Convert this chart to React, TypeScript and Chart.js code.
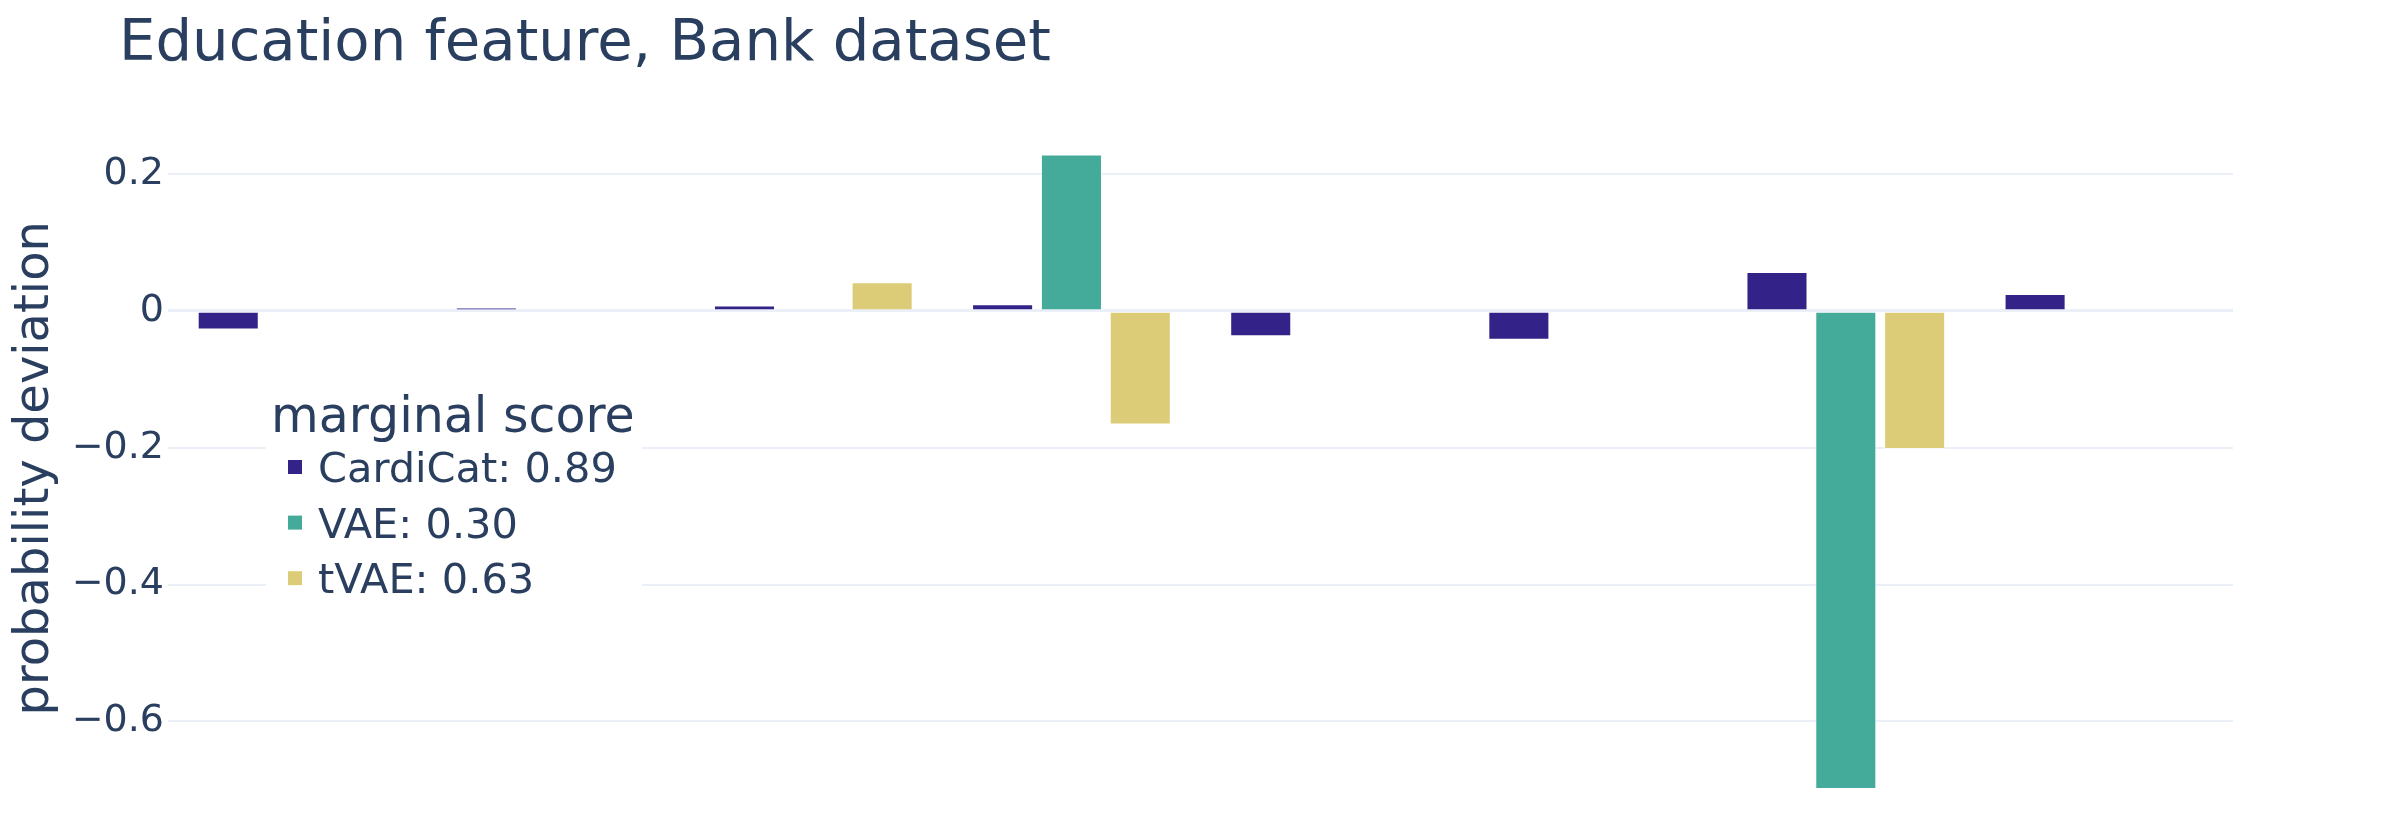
import React, { useEffect, useRef } from "react";
import { Chart, registerables } from "chart.js";

Chart.register(...registerables);

const CATEGORIES = [
  "basic.4y",
  "basic.6y",
  "basic.9y",
  "high.school",
  "illiterate",
  "professional.course",
  "university.degree",
  "unknown",
];
const SERIES_NAMES = ["CardiCat: 0.89", "VAE: 0.30", "tVAE: 0.63"];
const CARDICAT = [-0.027, 0.005, 0.008, 0.01, -0.037, -0.042, 0.057, 0.025];
const VAE = [null, null, null, 0.229, null, null, -0.699, null];
const TVAE = [null, null, 0.042, -0.166, null, null, -0.202, null];
const Y_TICKS = [-0.6, -0.4, -0.2, 0, 0.2];
const TITLE = "Education feature, Bank dataset";
const Y_TITLE = "probability deviation";
const LEGEND_TITLE = "marginal score";
const COLORS = ["rgb(51,34,136)", "rgb(68,170,153)", "rgb(221,204,119)"];

const TEXT = "#2a3f5f";
const GRID = "#EBF0F8";
const FONT = "'DejaVu Sans', Verdana, sans-serif";

const formatTick = (v: number) => {
  if (Math.abs(v) < 1e-9) return "0";
  return (v < 0 ? "\u2212" : "") + Math.abs(v).toFixed(1);
};

const overlayPlugin = {
  id: "overlay",
  afterDraw(chart: any) {
    const ctx = chart.ctx as CanvasRenderingContext2D;
    ctx.save();
    ctx.textAlign = "left";
    ctx.textBaseline = "alphabetic";
    // title
    ctx.fillStyle = TEXT;
    ctx.font = `57.7px ${FONT}`;
    ctx.fillText(TITLE, 119, 60);
    // legend
    ctx.fillStyle = "#ffffff";
    ctx.fillRect(266, 385, 376, 230);
    ctx.fillStyle = TEXT;
    ctx.font = `49px ${FONT}`;
    ctx.fillText(LEGEND_TITLE, 271, 432);
    chart.data.datasets.forEach((ds: any, i: number) => {
      const y = 482 + i * 55.6;
      ctx.fillStyle = ds.backgroundColor;
      ctx.fillRect(288, y - 22, 14, 14);
      ctx.fillStyle = TEXT;
      ctx.font = `41.5px ${FONT}`;
      ctx.fillText(ds.label, 318, y);
    });
    ctx.restore();
  },
};

export default function App() {
  const canvasRef = useRef<HTMLCanvasElement | null>(null);

  useEffect(() => {
    if (!canvasRef.current) return;
    Chart.defaults.font.family = FONT;
    const series = [CARDICAT, VAE, TVAE];
    const chart = new Chart(canvasRef.current, {
      type: "bar",
      data: {
        labels: CATEGORIES,
        datasets: series.map((d, i) => ({
          label: SERIES_NAMES[i],
          data: d as any,
          backgroundColor: COLORS[i],
          borderColor: "rgba(255,255,255,0.5)",
          borderWidth: 1,
          barPercentage: 0.887,
          categoryPercentage: 0.8,
        })),
      },
      options: {
        responsive: false,
        animation: false,
        devicePixelRatio: 1,
        layout: { padding: { top: 119.5, bottom: 5, left: 0, right: 159 } },
        plugins: {
          legend: { display: false },
          title: { display: false },
          tooltip: { enabled: false },
        },
        scales: {
          x: {
            type: "category",
            display: false,
            offset: true,
            grid: { display: false },
          },
          y: {
            min: -0.74,
            max: 0.28,
            afterBuildTicks: (s: any) => {
              s.ticks = Y_TICKS.map((v) => ({ value: v }));
            },
            afterFit: (s: any) => {
              s.width = 168;
              s.paddingTop = 0;
              s.paddingBottom = 0;
            },
            ticks: {
              font: { size: 38 },
              color: TEXT,
              padding: 4,
              callback: (v: any) => formatTick(Number(v)),
            },
            grid: {
              color: GRID,
              lineWidth: (c: any) => (c.tick && Math.abs(c.tick.value) < 1e-9 ? 3 : 2),
              drawTicks: false,
            },
            border: { display: false },
            title: {
              display: true,
              text: Y_TITLE,
              font: { size: 48 },
              color: TEXT,
              padding: { top: 7, bottom: 0 },
            },
          },
        },
      },
      plugins: [overlayPlugin],
    });
    return () => chart.destroy();
  }, []);

  return (
    <div
      style={{
        position: "fixed",
        left: 0,
        top: 0,
        width: 2392,
        height: 822,
        background: "#ffffff",
      }}
    >
      <canvas ref={canvasRef} width={2392} height={822} style={{ display: "block" }} />
    </div>
  );
}
